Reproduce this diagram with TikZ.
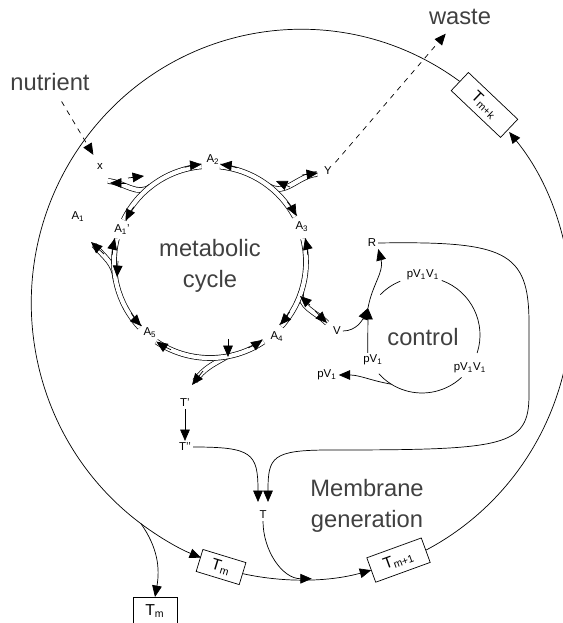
\documentclass[tikz,border=0pt]{standalone}
\usepackage{fontspec}
\setmainfont{Liberation Sans}
\usetikzlibrary{arrows.meta,calc}

\tikzset{
  flow/.style={-{Triangle[length=6.5pt,width=5.5pt]}},
  dbl/.style={double, double distance=2.4pt, line width=0.4pt},
  lbl/.style={font=\fontsize{6.5}{7}\selectfont, inner sep=1pt},
  big/.style={font=\fontsize{13.5}{18}\selectfont, text=black!75, align=center},
  tbox/.style={draw, fill=white, inner sep=1pt, font=\fontsize{9}{10}\selectfont}
}

\begin{document}
\begin{tikzpicture}[x=0.02cm, y=0.02cm]
\clip (0,0) rectangle (563,623);

% cell boundary
\coordinate (O) at (300,318);
\node[tbox, rotate=-17, minimum width=0.9cm, minimum height=0.46cm] (Tm) at ($(O)+(253:270 and 274)$) {T\textsubscript{m}};
\node[tbox, rotate=20, minimum width=1.16cm, minimum height=0.52cm] (Tm1) at ($(O)+(291.4:270 and 274)$) {T\textsubscript{m+1}};
\node[tbox, rotate=-43.5, minimum width=1.36cm, minimum height=0.5cm] (Tmk) at ($(O)+(46.9:270 and 274)$) {T\textsubscript{m+k}};
\node[tbox, minimum width=0.88cm, minimum height=0.56cm, anchor=north] (Tmo) at (155,26) {T\textsubscript{m}};

\draw (Tmk.west) arc[start angle=54.1, end angle=233.6, x radius=270, y radius=274] coordinate (split);
\draw[flow] (split) arc[start angle=233.6, end angle=248.2, x radius=270, y radius=274];
\draw[flow] (Tm.east) arc[start angle=257.8, end angle=285.3, x radius=270, y radius=274];
\draw[flow] (Tm1.east) arc[start angle=297.5, end angle=399.7, x radius=270, y radius=274];
\draw[flow] (split) to[out=-55, in=80] (Tmo.north);
\coordinate (merge) at ($(O)+(272.5:270 and 274)$);

% nutrient and waste
\node[big] (nutrient) at (50,541) {nutrient};
\node[big] (waste) at (460,606) {waste};
\node[lbl] (x) at (100,457) {x};
\node[lbl] (Y) at (328,452) {Y};
\draw[dashed, flow, shorten <=3pt, shorten >=4pt] (nutrient) -- (x);
\draw[dashed, flow, shorten <=2pt, shorten >=2pt] (Y) -- (waste);

% metabolic cycle
\coordinate (C) at (210,361);
\node[big] (metab) at (210,357) {metabolic\\cycle};
\node[lbl] (A2) at (213,463) {A\textsubscript{2}};
\node[lbl] (A3) at (302,396) {A\textsubscript{3}};
\node[lbl] (A4) at (277,286) {A\textsubscript{4}};
\node[lbl] (A5) at (150,290) {A\textsubscript{5}};
\node[lbl] (A1p) at (122,393) {A\textsubscript{1}'};
\node[lbl] (A1) at (78,406) {A\textsubscript{1}};

\coordinate (J1) at ($(C)+(128:96)$);
\coordinate (J2) at ($(C)+(52:96)$);
\coordinate (J3) at ($(C)+(-18:96)$);
\coordinate (J4) at ($(C)+(-80:96)$);
\coordinate (J5) at ($(C)+(190:96)$);
\coordinate (xb) at (108,442);
\coordinate (yb) at (317,449);
\coordinate (vb) at (327,300);
\coordinate (tb) at (195,242);
\coordinate (ab) at (94,378);

\draw[dbl] (xb) to[out=-5, in=218] (J1);
\draw[dbl] (J2) to[out=-30, in=185] (yb);
\draw[dbl] (J3) to[out=-100, in=135] (vb);
\draw[dbl] (J4) to[out=-150, in=55] (tb);
\draw[dbl] (J5) to[out=95, in=-50] (ab);

\draw[dbl] ($(C)+(154:96)$) arc[start angle=154, end angle=95, radius=96];
\draw[dbl] ($(C)+(84:96)$) arc[start angle=84, end angle=28, radius=96];
\draw[dbl] ($(C)+(14:96)$) arc[start angle=14, end angle=-42, radius=96];
\draw[dbl] ($(C)+(-56:96)$) arc[start angle=-56, end angle=-124, radius=96];
\draw[dbl] ($(C)+(-137:96)$) arc[start angle=-137, end angle=-194, radius=96];

\draw[flow] ($(C)+(105:98)$) arc[start angle=105, end angle=95, radius=98];
\draw[flow] ($(C)+(144:94)$) arc[start angle=144, end angle=154, radius=94];
\draw[flow] ($(C)+(74:98)$) arc[start angle=74, end angle=84, radius=98];
\draw[flow] ($(C)+(38:98)$) arc[start angle=38, end angle=28, radius=98];
\draw[flow] ($(C)+(4:98)$) arc[start angle=4, end angle=14, radius=98];
\draw[flow] ($(C)+(-32:94)$) arc[start angle=-32, end angle=-42, radius=94];
\draw[flow] ($(C)+(-66:94)$) arc[start angle=-66, end angle=-56, radius=94];
\draw[flow] ($(C)+(-114:96)$) arc[start angle=-114, end angle=-124, radius=96];
\draw[flow] ($(C)+(-147:94)$) arc[start angle=-147, end angle=-137, radius=94];
\draw[flow] ($(C)+(-184:98)$) arc[start angle=-184, end angle=-194, radius=98];

\draw[flow] (126,440) -- (110,440);
\draw[flow] (128,445) -- (144,447);
\draw[flow] (302,448) -- (318,450);
\draw[flow] (290,436) -- (276,442);
\draw[flow] (315,312) -- (327,300);
\draw[flow] (310,318) -- (300,327);
\draw[flow] (228,284) -- (228,266);
\draw[flow] (203,252) -- (192,238);
\draw[flow] (118,362) -- (117,346);
\draw[flow] (104,369) -- (91,381);

% control
\coordinate (K) at (422,288);
\node[big] (control) at (423,286) {control};
\node[lbl] (pVt) at (423,348) {pV\textsubscript{1}V\textsubscript{1}};
\node[lbl] (pVr) at (470,255) {pV\textsubscript{1}V\textsubscript{1}};
\node[lbl] (pVi) at (373,263) {pV\textsubscript{1}};
\node[lbl] (pVo) at (327,248) {pV\textsubscript{1}};
\node[lbl] (V) at (337,292) {V};
\node[lbl] (R) at (372,380) {R};
\coordinate (J6) at (368,315);
\coordinate (kb) at ($(K)+(-122:58)$);

\draw ($(K)+(70:58)$) arc[start angle=70, end angle=-18, radius=58];
\draw ($(K)+(-47:58)$) arc[start angle=-47, end angle=-138, radius=58];
\draw ($(K)+(112:58)$) arc[start angle=112, end angle=136, radius=58];
\draw[flow] ([xshift=-3pt]pVi.north) -- (J6);
\draw[flow] (V.east) to[out=0, in=-115] (J6);
\draw[flow] (J6) to[out=80, in=-75] (R.south east);
\draw[flow] (kb) to[out=170, in=0] (pVo.east);

% membrane generation
\node[big] (membrane) at (367,117) {Membrane\\generation};
\node[lbl] (Tp) at (185,220) {T'};
\node[lbl] (Tpp) at (185,176) {T'{}'};
\node[lbl] (T) at (263,108) {T};
\coordinate (Tl) at (258,121);
\coordinate (Tr) at (268,121);

\draw[flow] (Tp) -- (Tpp);
\draw[flow] (Tpp.east) .. controls (252,176) and (258,170) .. (Tl);
\draw[flow] (R.east) .. controls (505,382) and (529,372) .. (529,300) -- (529,228)
  .. controls (529,176) and (505,173) .. (330,173) .. controls (272,173) and (268,166) .. (Tr);
\draw[flow] (T.south) to[out=-90, in=180] (merge);
\end{tikzpicture}
\end{document}
